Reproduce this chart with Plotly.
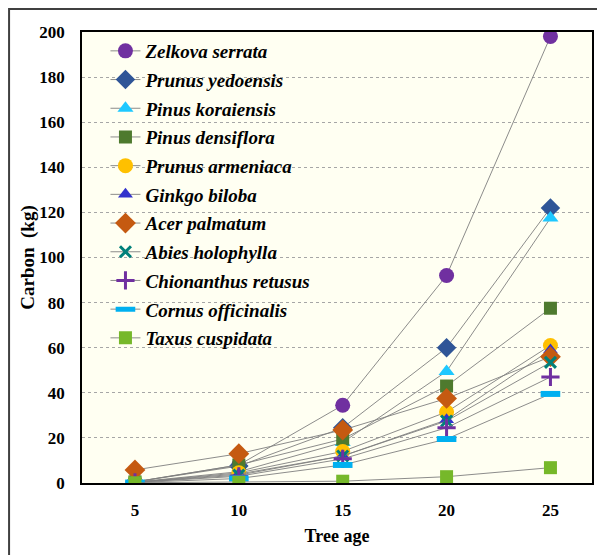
import plotly.graph_objects as go

ages = [5, 10, 15, 20, 25]
species = ["Zelkova serrata", "Prunus yedoensis", "Pinus koraiensis", "Pinus densiflora",
           "Prunus armeniaca", "Ginkgo biloba", "Acer palmatum", "Abies holophylla",
           "Chionanthus retusus", "Cornus officinalis", "Taxus cuspidata"]
zelkova = [0.5, 8, 34.5, 92, 198]
yedoensis = [0.5, 7.5, 24.5, 60, 122]
koraiensis = [0.4, 5, 18, 49.5, 117.5]
densiflora = [0.5, 8, 19.5, 43, 77.5]
armeniaca = [0.3, 4.5, 14, 31.5, 61]
ginkgo = [0.3, 4, 12, 28, 59]
acer = [5.8, 13, 23.5, 37.5, 56]
abies = [0.3, 3.5, 12, 27.5, 53.5]
chionanthus = [0.3, 3, 10.7, 24.5, 47]
cornus = [0.2, 2, 8, 19.5, 39.5]
taxus = [0.1, 0.3, 0.8, 2.8, 6.8]
series = [zelkova, yedoensis, koraiensis, densiflora, armeniaca, ginkgo, acer,
          abies, chionanthus, cornus, taxus]

styles = [
    dict(symbol="circle", size=15, color="#7030A0"),
    dict(symbol="diamond", size=15, color="#2F5597"),
    dict(symbol="triangle-up", size=14, color="#1EC8FF"),
    dict(symbol="square", size=13, color="#4E7A2E"),
    dict(symbol="circle", size=15, color="#FFC000"),
    dict(symbol="triangle-up", size=13, color="#3333CC"),
    dict(symbol="diamond", size=16, color="#C55A11"),
    dict(symbol="x-thin", size=11, color="#00807A", lw=3),
    dict(symbol="cross-thin", size=13, color="#7030A0", lw=3),
    dict(symbol="line-ew", size=14, color="#00B0F0", lw=6),
    dict(symbol="square", size=13, color="#76B82A"),
]

fig = go.Figure()
for name, vals, st in zip(species, series, styles):
    if "lw" in st:
        marker = dict(symbol=st["symbol"], size=st["size"], color=st["color"],
                      line=dict(color=st["color"], width=st["lw"]))
    else:
        marker = dict(symbol=st["symbol"], size=st["size"], color=st["color"],
                      line=dict(width=0))
    fig.add_trace(go.Scatter(x=ages, y=vals, name=name, mode="lines+markers",
                             line=dict(color="#7F7F7F", width=0.9),
                             marker=marker, legendgroup=name))

font_fam = "Liberation Serif, Times New Roman, serif"
fig.update_layout(
    width=605, height=555,
    margin=dict(l=74, r=21, t=24, b=80),
    paper_bgcolor="white", plot_bgcolor="#FFFFF2",
    font=dict(family=font_fam, size=16, color="black"),
    showlegend=True,
    legend=dict(x=0.046, y=1.0, xanchor="left", yanchor="top",
                bgcolor="rgba(0,0,0,0)", borderwidth=0, tracegroupgap=1,
                font=dict(family=font_fam, size=19, color="black", weight="bold", style="italic")),
    xaxis=dict(range=[2.45, 27.0], tickvals=ages, ticktext=[str(a) for a in ages],
               showgrid=False, zeroline=False, showline=True, linecolor="black",
               linewidth=1.5, mirror=True, ticks="outside", ticklen=11,
               tickcolor="rgba(0,0,0,0)",
               tickfont=dict(family=font_fam, size=17, weight="bold"),
               title=dict(text="<b>Tree age</b>", font=dict(family=font_fam, size=18), standoff=10)),
    yaxis=dict(range=[0, 200], dtick=20, showgrid=True, gridcolor="#A6A6A6",
               griddash="dot", gridwidth=1, zeroline=False, showline=True,
               linecolor="black", linewidth=1.5, mirror=True, ticks="outside",
               ticklen=12, tickcolor="rgba(0,0,0,0)",
               tickfont=dict(family=font_fam, size=17, weight="bold"),
               title=dict(text="<b>Carbon  (kg)</b>", font=dict(family=font_fam, size=19), standoff=0)),
)

fig.add_shape(type="rect", xref="paper", yref="paper",
              x0=-0.143, x1=1.0157, y0=-0.25, y1=1.051,
              line=dict(color="#404040", width=2), fillcolor="rgba(0,0,0,0)", layer="below")

fig.write_html("out.html")
